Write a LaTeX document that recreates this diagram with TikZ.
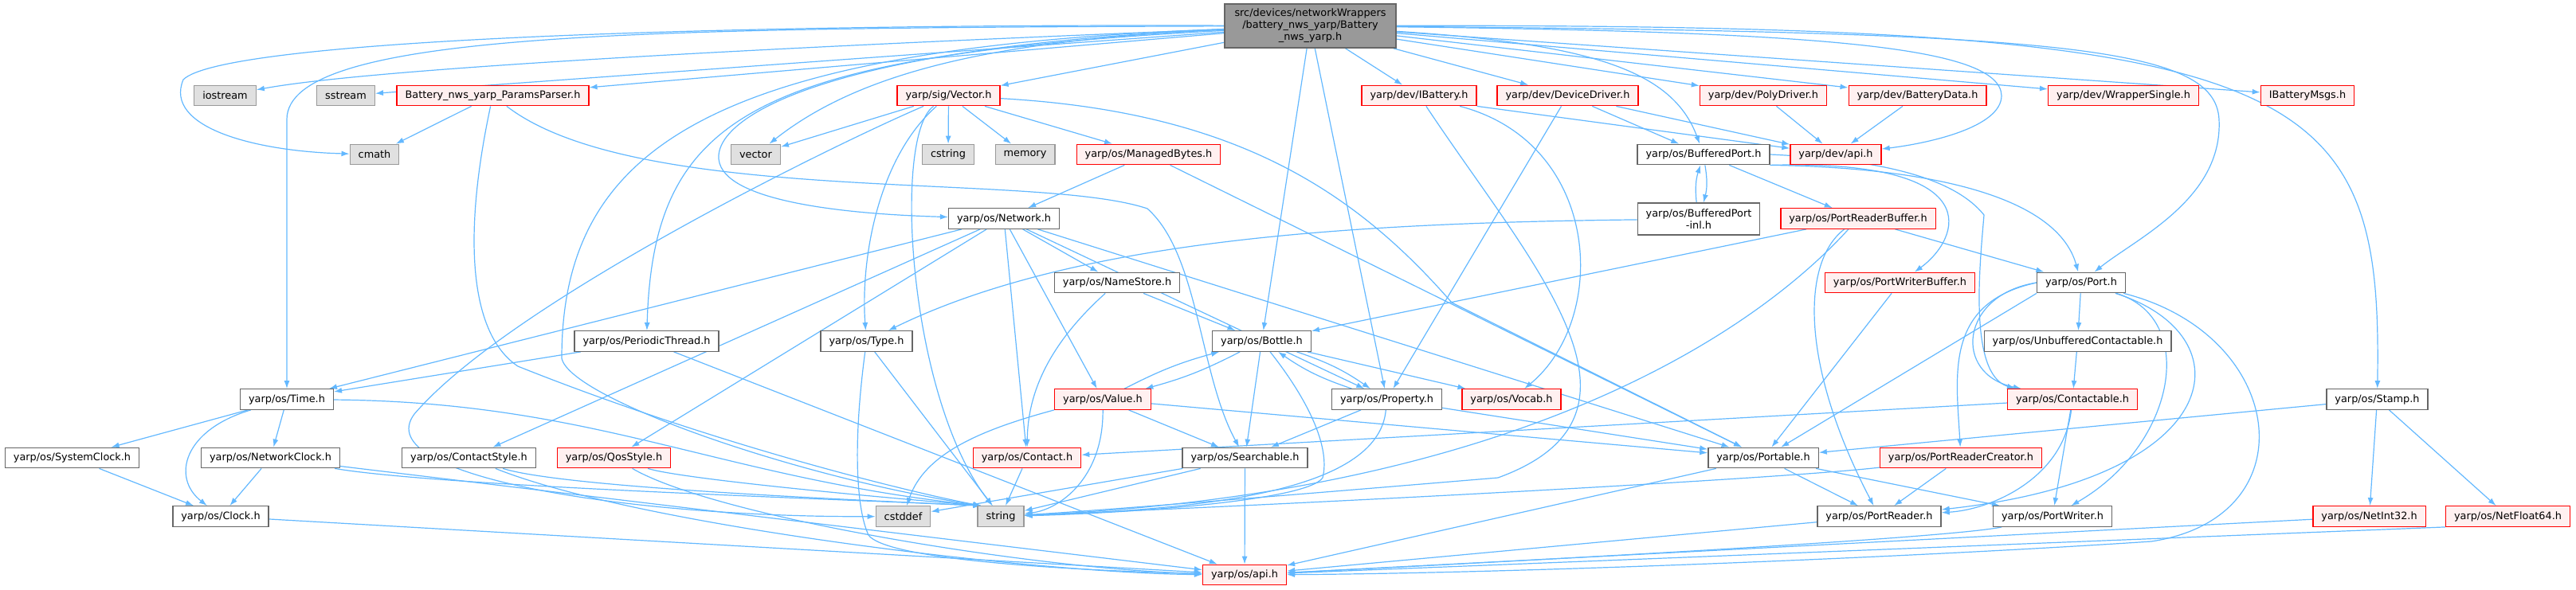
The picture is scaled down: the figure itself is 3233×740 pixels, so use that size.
\documentclass[tikz,border=0pt]{standalone}
\usepackage{fontspec}
\setmainfont{DejaVu Sans}[Ligatures=NoCommon]
\usetikzlibrary{arrows.meta}

\definecolor{edgeblue}{HTML}{63B8FF}
\definecolor{boxline}{HTML}{666666}
\definecolor{truncline}{HTML}{FF0000}
\definecolor{truncfill}{HTML}{FFF0F0}
\definecolor{sysline}{HTML}{999999}
\definecolor{sysfill}{HTML}{E0E0E0}
\definecolor{topfill}{HTML}{999999}

\pgfdeclarelayer{edgelayer}
\pgfsetlayers{edgelayer,main}

\tikzset{
  hdr/.style={draw=boxline, fill=white, line width=1.3pt, minimum height=25.5pt,
    inner xsep=10.5pt, inner ysep=0pt, font=\fontsize{12.85}{15}\selectfont},
  trunc/.style={hdr, draw=truncline, fill=truncfill},
  sys/.style={hdr, draw=sysline, fill=sysfill},
  topfile/.style={hdr, fill=topfill, minimum width=215pt, minimum height=55pt, align=center},
  incl/.style={draw=edgeblue, line width=1.2pt, -{Latex[length=10pt,width=7pt]}}
}

\begin{document}
\begin{tikzpicture}[x=1pt,y=-1pt]
    \useasboundingbox (0,0) rectangle (3233,740);

    % Header being documented
    \node[topfile] (battnws) at (1644.5,32.5) {src/devices/networkWrappers\\/battery\_nws\_yarp/Battery\\\_nws\_yarp.h};

    % Row 1
    \node[sys] (iostream) at (282.5,120) {iostream};
    \node[sys] (sstream) at (434,120) {sstream};
    \node[trunc] (parser) at (618.5,120) {Battery\_nws\_yarp\_ParamsParser.h};
    \node[trunc] (sigvector) at (1190.5,120) {yarp/sig/Vector.h};
    \node[trunc] (ibattery) at (1781,120) {yarp/dev/IBattery.h};
    \node[trunc] (devdriver) at (1967.5,120) {yarp/dev/DeviceDriver.h};
    \node[trunc] (polydriver) at (2213,120) {yarp/dev/PolyDriver.h};
    \node[trunc] (batterydata) at (2406.5,120) {yarp/dev/BatteryData.h};
    \node[trunc] (wrapper) at (2665,120) {yarp/dev/WrapperSingle.h};
    \node[trunc] (msgs) at (2896,120) {IBatteryMsgs.h};

    % Row 2
    \node[sys] (cmath) at (470,194) {cmath};
    \node[sys] (vector) at (948.5,194) {vector};
    \node[sys] (cstring) at (1190,194) {cstring};
    \node[sys] (memory) at (1286.5,194) {memory};
    \node[trunc] (managed) at (1441.5,194) {yarp/os/ManagedBytes.h};
    \node[hdr] (bufport) at (2138,194) {yarp/os/BufferedPort.h};
    \node[trunc] (devapi) at (2304,194) {yarp/dev/api.h};

    % Row 3
    \node[hdr] (network) at (1260,274.5) {yarp/os/Network.h};
    \node[hdr, align=center, minimum height=40pt] (bufinl) at (2132,275) {yarp/os/BufferedPort\\-inl.h};
    \node[trunc] (prbuffer) at (2332,274.5) {yarp/os/PortReaderBuffer.h};

    % Row 4
    \node[hdr] (namestore) at (1402,355) {yarp/os/NameStore.h};
    \node[trunc] (pwbuffer) at (2384.5,355) {yarp/os/PortWriterBuffer.h};
    \node[hdr] (port) at (2612,355) {yarp/os/Port.h};

    % Row 5
    \node[hdr] (periodic) at (811.5,428.5) {yarp/os/PeriodicThread.h};
    \node[hdr] (type) at (1087.5,428.5) {yarp/os/Type.h};
    \node[hdr] (bottle) at (1583.5,428.5) {yarp/os/Bottle.h};
    \node[hdr] (unbuffered) at (2607.5,428.5) {yarp/os/UnbufferedContactable.h};

    % Row 6
    \node[hdr] (time) at (360,501.5) {yarp/os/Time.h};
    \node[trunc] (value) at (1384,501.5) {yarp/os/Value.h};
    \node[hdr] (property) at (1740.5,501.5) {yarp/os/Property.h};
    \node[trunc] (vocab) at (1897,501.5) {yarp/os/Vocab.h};
    \node[trunc] (contactable) at (2601,501.5) {yarp/os/Contactable.h};
    \node[hdr] (stamp) at (2983.5,501.5) {yarp/os/Stamp.h};

    % Row 7
    \node[hdr] (sysclock) at (90.5,575) {yarp/os/SystemClock.h};
    \node[hdr] (netclock) at (339.5,575) {yarp/os/NetworkClock.h};
    \node[hdr] (contactstyle) at (588.5,575) {yarp/os/ContactStyle.h};
    \node[trunc] (qosstyle) at (770.5,575) {yarp/os/QosStyle.h};
    \node[trunc] (contact) at (1289,575) {yarp/os/Contact.h};
    \node[hdr] (searchable) at (1562.5,575) {yarp/os/Searchable.h};
    \node[hdr] (portable) at (2213,575) {yarp/os/Portable.h};
    \node[trunc] (prcreator) at (2461,575) {yarp/os/PortReaderCreator.h};

    % Row 8
    \node[hdr] (clock) at (277,648.5) {yarp/os/Clock.h};
    \node[sys] (cstddef) at (1133.5,648.5) {cstddef};
    \node[sys] (string) at (1256,648.5) {string};
    \node[hdr] (portreader) at (2358.5,648.5) {yarp/os/PortReader.h};
    \node[hdr] (portwriter) at (2576,648.5) {yarp/os/PortWriter.h};
    \node[trunc] (netint32) at (2973.5,648.5) {yarp/os/NetInt32.h};
    \node[trunc] (netfloat64) at (3147.5,648.5) {yarp/os/NetFloat64.h};

    % Row 9
    \node[trunc] (osapi) at (1562,722) {yarp/os/api.h};

    \begin{pgfonlayer}{edgelayer}
    % Straight includes
    \foreach \a/\b in {battnws/sstream, battnws/parser, battnws/sigvector, battnws/bottle, battnws/property,
      battnws/ibattery, battnws/devdriver, battnws/polydriver, battnws/batterydata, battnws/wrapper, battnws/msgs,
      parser/cmath, sigvector/cstring, sigvector/memory, sigvector/managed, sigvector/vector,
      managed/network, managed/portable,
      network/time, network/contactstyle, network/qosstyle, network/namestore, network/contact,
      network/value, network/property, network/portable,
      namestore/bottle, periodic/time, periodic/osapi, type/string,
      time/sysclock, time/netclock, sysclock/clock, netclock/clock, netclock/osapi, clock/osapi,
      bottle/vocab, bottle/searchable, value/searchable, value/portable,
      property/searchable, property/portable,
      searchable/string, searchable/cstddef, searchable/osapi, contact/string,
      ibattery.south east/devapi, devdriver/bufport, devdriver/devapi, devdriver/property,
      polydriver/devapi, batterydata/devapi,
      bufport/prbuffer, prbuffer/port, prbuffer/bottle, pwbuffer/portable,
      port/unbuffered, port.south west/portable, unbuffered/contactable,
      contactable/contact, contactable/portwriter,
      portable/portreader, portable/portwriter, portable/osapi, prcreator/portreader,
      portreader/osapi, stamp/portable, stamp/netint32, stamp/netfloat64,
      netint32/osapi, netfloat64.south west/osapi}
      \draw[incl] (\a) -- (\b);

    % Routed includes from the top header
    \draw[incl] (battnws) .. controls (1200,50) and (500,80) .. (iostream);
    \draw[incl] (battnws) .. controls (900,30) and (280,50) .. (230,100) .. controls (205,160) and (320,190) .. (cmath);
    \draw[incl] (battnws) .. controls (1250,50) and (1080,90) .. (vector);
    \draw[incl] (battnws) .. controls (800,35) and (360,40) .. (360,150) -- (time);
    \draw[incl] (battnws) .. controls (950,70) and (820,140) .. (periodic);
    \draw[incl] (battnws) .. controls (900,60) and (705,180) .. (705,450) .. controls (715,500) and (1000,600) .. ([xshift=5pt]string.north west);
    \draw[incl] (battnws) .. controls (1000,60) and (880,160) .. (905,210) .. controls (930,260) and (1100,270) .. (network);
    \draw[incl] (battnws) .. controls (2300,40) and (2510,60) .. (2512,120) .. controls (2512,160) and (2420,180) .. (devapi);
    \draw[incl] (battnws) .. controls (2000,55) and (2100,90) .. (bufport);
    \draw[incl] (battnws) .. controls (2600,40) and (2780,60) .. (2785,150) .. controls (2790,250) and (2680,300) .. (port);
    \draw[incl] (battnws) .. controls (2900,30) and (2990,100) .. (stamp);

    % Routed includes, left half
    \draw[incl] (parser) .. controls (580,300) and (590,420) .. (650,460) .. controls (900,560) and (1150,620) .. ([xshift=5pt]string.north west);
    \draw[incl] (parser) .. controls (800,260) and (1300,215) .. (1440,262) .. controls (1505,320) and (1505,470) .. (searchable);
    \draw[incl] (sigvector) .. controls (1100,200) and (1080,330) .. (type);
    \draw[incl] (sigvector) .. controls (1120,170) and (1140,500) .. (string);
    \draw[incl] (sigvector) .. controls (1550,140) and (1700,240) .. (1822,380) -- (portable);
    \draw[incl] (sigvector) .. controls (1050,180) and (640,380) .. (520,520) .. controls (460,600) and (800,650) .. (cstddef);
    \draw[incl] (time) .. controls (230,540) and (215,600) .. (clock);
    \draw[incl] (time) .. controls (750,505) and (900,600) .. ([xshift=5pt]string.north west);
    \draw[incl] (netclock) .. controls (550,610) and (1000,625) .. ([xshift=5pt]string.north west);
    \draw[incl] (contactstyle) .. controls (700,610) and (1000,625) .. ([xshift=5pt]string.north west);
    \draw[incl] (qosstyle) .. controls (850,600) and (1050,620) .. ([xshift=5pt]string.north west);
    \draw[incl] (contactstyle) .. controls (800,660) and (1300,720) .. (osapi);
    \draw[incl] (qosstyle) .. controls (900,650) and (1300,715) .. (osapi);
    \draw[incl] (type) .. controls (1070,560) and (1075,640) .. (1090,672) .. controls (1110,700) and (1300,715) .. (osapi);
    \draw[incl] (namestore) .. controls (1330,420) and (1290,480) .. (contact);
    \draw[incl] (value.south west) .. controls (1230,540) and (1160,570) .. (cstddef);
    \draw[incl] (value) .. controls (1385,600) and (1330,640) .. (string);
    \draw[incl] (bottle) .. controls (1640,500) and (1670,560) .. (1660,600) .. controls (1640,630) and (1400,645) .. (string);
    \draw[incl] (property) .. controls (1730,620) and (1500,640) .. (string);
    \draw[incl] (bottle) to[bend left=6] (value);
    \draw[incl] (value) to[bend left=6] (bottle);
    \draw[incl] (bottle) to[bend left=8] (property);
    \draw[incl] (property) to[bend left=8] (bottle);

    % Routed includes, right half
    \draw[incl] (ibattery) .. controls (2010,180) and (2020,400) .. (vocab);
    \draw[incl] (ibattery) .. controls (1920,330) and (2100,520) .. (1880,600) .. controls (1700,615) and (1400,640) .. (string);
    \draw[incl] (bufport) to[bend left=12] (bufinl);
    \draw[incl] (bufinl) to[bend left=12] (bufport);
    \draw[incl] (bufinl) .. controls (1700,280) and (1350,300) .. (type);
    \draw[incl] (bufport.south east) .. controls (2500,200) and (2460,300) .. (pwbuffer);
    \draw[incl] (bufport.east) .. controls (2350,200) and (2450,220) .. (2490,270) .. controls (2485,330) and (2470,470) .. ([xshift=10pt]contactable.north west);
    \draw[incl] (bufport.south east) .. controls (2400,210) and (2580,240) .. (port);
    \draw[incl] (prbuffer) .. controls (2260,330) and (2260,460) .. (portreader);
    \draw[incl] (prbuffer) .. controls (2200,420) and (1900,620) .. (string);
    \draw[incl] (port.west) .. controls (2460,370) and (2450,470) .. (contactable);
    \draw[incl] (port.west) .. controls (2440,380) and (2455,470) .. (prcreator);
    \draw[incl] (port) .. controls (2820,420) and (2800,600) .. (portreader);
    \draw[incl] (port) .. controls (2760,400) and (2730,560) .. (portwriter);
    \draw[incl] (port) .. controls (2870,420) and (2900,650) .. (2700,680) .. controls (2400,700) and (1900,720) .. (osapi);
    \draw[incl] (contactable) .. controls (2590,600) and (2500,640) .. (portreader);
    \draw[incl] (prcreator) .. controls (2250,600) and (1700,630) .. (string);
    \draw[incl] (portwriter) .. controls (2450,675) and (2000,700) .. (osapi);
    \end{pgfonlayer}

\end{tikzpicture}
\end{document}
